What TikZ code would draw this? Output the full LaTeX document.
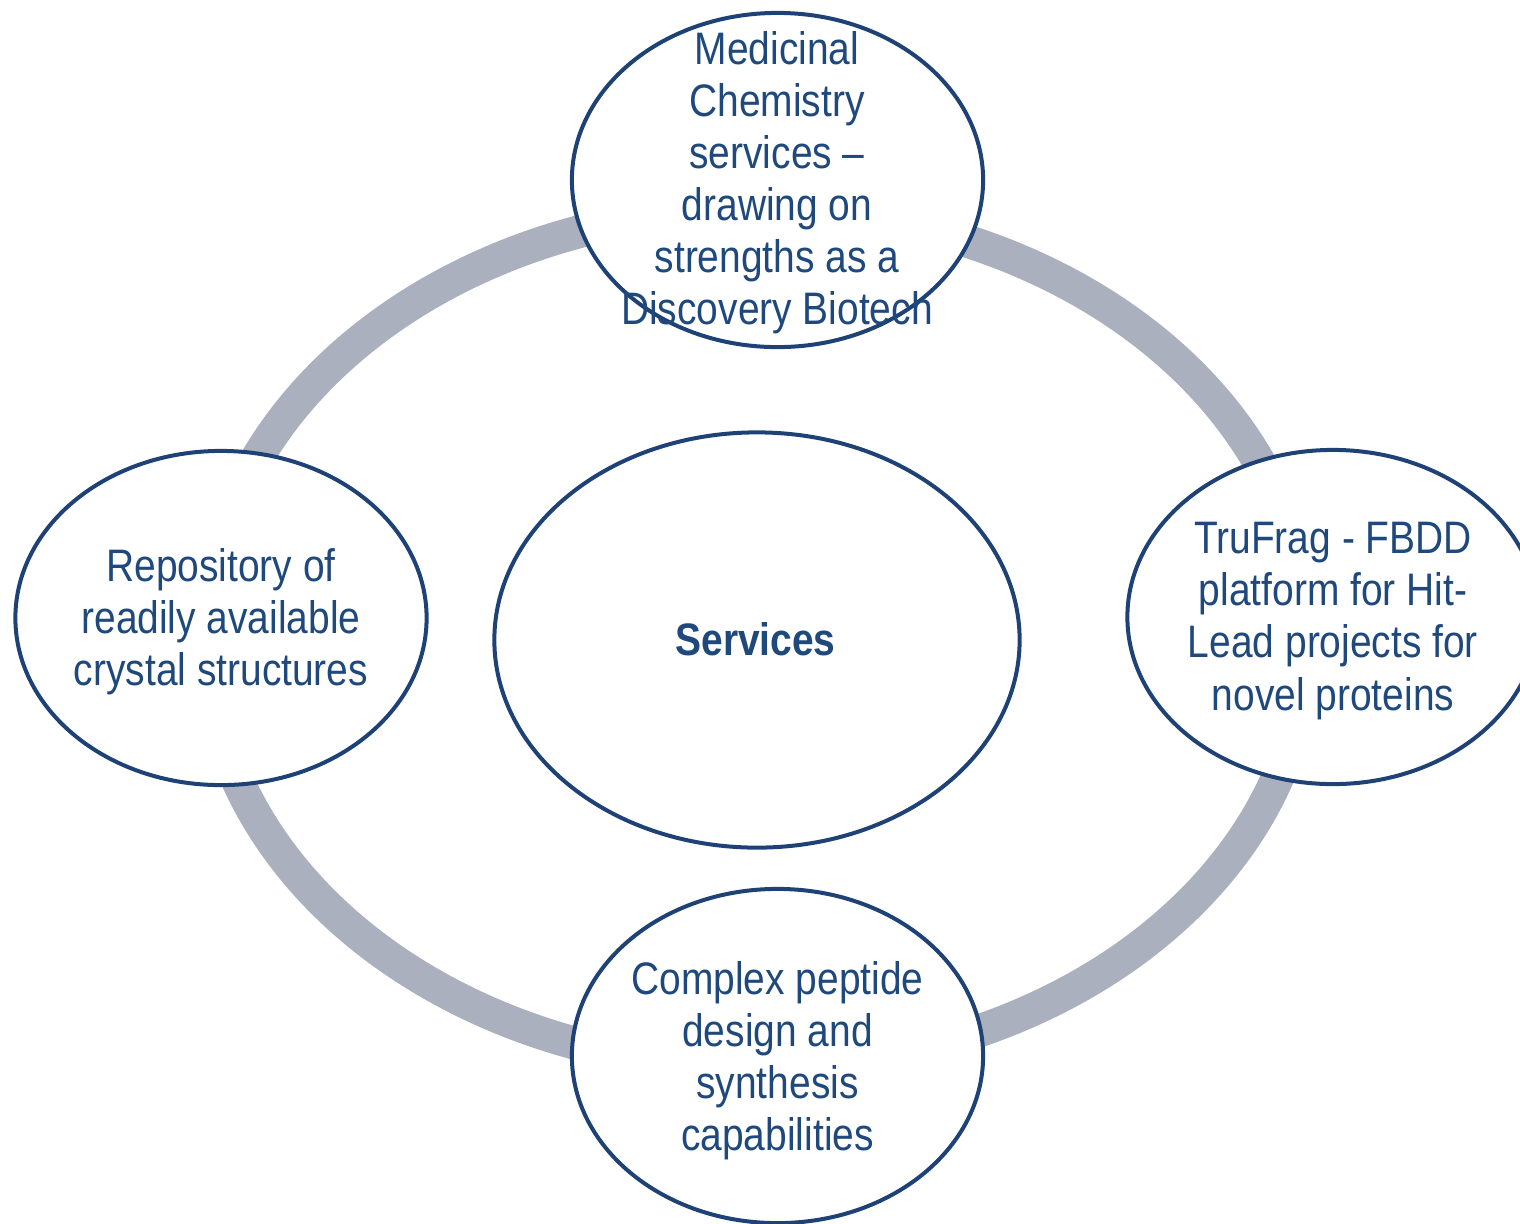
\documentclass[tikz,border=0pt]{standalone}
\usepackage{fontspec}
\setmainfont[FakeStretch=0.855]{Liberation Sans}
\usetikzlibrary{shapes.geometric}
\definecolor{ringgray}{HTML}{ABB0BE}
\definecolor{bubbleblue}{HTML}{1E4276}
\definecolor{textblue}{HTML}{1F497D}
\tikzset{
  ring/.style={draw=ringgray, line width=0.33cm},
  bubble/.style={ellipse, draw=bubbleblue, fill=white, line width=0.04cm, inner sep=0pt},
  smallbubble/.style={bubble, minimum width=4.11cm, minimum height=3.34cm},
  bigbubble/.style={bubble, minimum width=5.25cm, minimum height=4.15cm},
  btext/.style={align=center, inner sep=0pt, text=textblue, font=\fontsize{12.95pt}{14.8pt}\selectfont}
}
\begin{document}
\begin{tikzpicture}[x=0.01cm, y=-0.01cm]
\clip (0,0) rectangle (1520,1223);
\fill[white] (0,0) rectangle (1520,1223);
\draw[ring] (757,638) ellipse [x radius=5.5cm, y radius=4.29cm];
\node[smallbubble] (med) at (777.5,180) {};
\node[smallbubble] (rep) at (221,618) {};
\node[smallbubble] (tru) at (1333,617) {};
\node[smallbubble] (pep) at (777.5,1056) {};
\node[bigbubble] (srv) at (757,640) {};
\node[btext] (medt) at (777,183) {Medicinal\\Chemistry\\services –\\drawing on\\strengths as a\\Discovery Biotech};
\node[btext] (rept) at (221,621.6) {Repository of\\readily available\\crystal structures};
\node[btext] (trut) at (1333,621) {TruFrag - FBDD\\platform for Hit-\\Lead projects for\\novel proteins};
\node[btext] (pept) at (777.5,1061) {Complex peptide\\design and\\synthesis\\capabilities};
\node[btext, font=\fontsize{12.95pt}{14.8pt}\selectfont\bfseries] (srvt) at (755.5,639) {Services};
\end{tikzpicture}
\end{document}
